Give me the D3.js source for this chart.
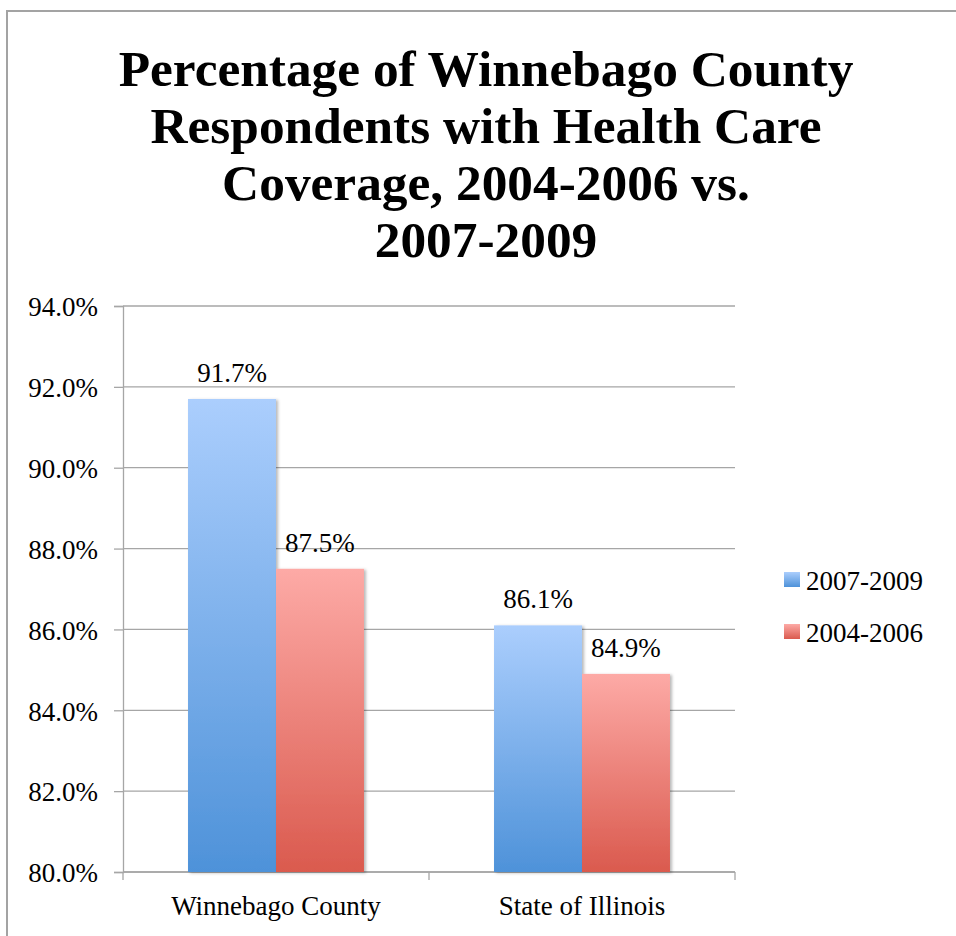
<!DOCTYPE html>
<html>
<head>
<meta charset="utf-8">
<script src="https://cdn.jsdelivr.net/npm/d3@7/dist/d3.min.js"></script>
<style>
  html, body { margin: 0; padding: 0; background: #fff; }
  svg { display: block; }
</style>
</head>
<body>
<script>
// Chart data
const categories = ["Winnebago County", "State of Illinois"];
const seriesNames = ["2007-2009", "2004-2006"];
const values2007 = [91.7, 86.1];
const values2004 = [87.5, 84.9];
const yTicks = [80, 82, 84, 86, 88, 90, 92, 94];
const titleLines = [
  "Percentage of Winnebago County",
  "Respondents with Health Care",
  "Coverage, 2004-2006 vs.",
  "2007-2009"
];

const W = 956, H = 936;
const svg = d3.select("body").append("svg").attr("width", W).attr("height", H);
const defs = svg.append("defs");

// Vertical gradients for the two series
const gradStops = {
  "2007-2009": ["#abcefd", "#4e92d9"],
  "2004-2006": ["#fdaaa6", "#da5a4e"]
};
seriesNames.forEach((s, i) => {
  const g = defs.append("linearGradient")
    .attr("id", "grad" + i).attr("x1", 0).attr("y1", 0).attr("x2", 0).attr("y2", 1);
  g.append("stop").attr("offset", "0%").attr("stop-color", gradStops[s][0]);
  g.append("stop").attr("offset", "100%").attr("stop-color", gradStops[s][1]);
});
const shadow = defs.append("filter").attr("id", "barShadow")
  .attr("x", "-10%").attr("y", "-5%").attr("width", "130%").attr("height", "115%");
shadow.append("feDropShadow").attr("dx", 2).attr("dy", 1).attr("stdDeviation", 1.6)
  .attr("flood-color", "#000").attr("flood-opacity", 0.28);

// Outer frame
svg.append("rect").attr("x", 7).attr("y", 11).attr("width", W + 20).attr("height", H + 20)
  .attr("fill", "none").attr("stroke", "#a3a3a3").attr("stroke-width", 2);

// Title
const title = svg.append("text")
  .attr("font-family", "'Liberation Serif', serif")
  .attr("font-weight", "bold")
  .attr("font-size", 48)
  .attr("fill", "#000")
  .attr("text-anchor", "middle");
titleLines.forEach((t, i) => {
  title.append("tspan").attr("x", 486).attr("y", 86 + i * 57).text(t);
});
// Fit the longest line to its width
const firstLen = title.select("tspan").node().getComputedTextLength();
title.attr("font-size", 48 * 735 / firstLen);

// Scales
const plotLeft = 123, plotRight = 735, plotTop = 306, plotBottom = 872;
const y = d3.scaleLinear().domain([80, 94]).range([plotBottom, plotTop]);
const x = d3.scaleBand().domain(categories).range([plotLeft, plotRight]).padding(0);
const xSub = d3.scaleBand().domain(seriesNames).range([0, x.bandwidth()])
  .paddingInner(0).paddingOuter(0.739);

const labelFont = "'Liberation Serif', serif";
const gridColor = "#a6a6a6";

// Gridlines
svg.append("g").selectAll("line").data(yTicks).join("line")
  .attr("x1", plotLeft).attr("x2", plotRight)
  .attr("y1", d => y(d)).attr("y2", d => y(d))
  .attr("stroke", gridColor).attr("stroke-width", 1.3);

// Y axis
const yAxis = svg.append("g").attr("transform", `translate(${plotLeft},0)`)
  .call(d3.axisLeft(y).tickValues(yTicks).tickSize(9).tickPadding(16)
    .tickFormat(d => d.toFixed(1) + "%"));
yAxis.select(".domain").attr("stroke", gridColor).attr("stroke-width", 1.3);
yAxis.selectAll(".tick line").attr("stroke", gridColor).attr("stroke-width", 1.3);
yAxis.selectAll(".tick text")
  .attr("font-family", labelFont).attr("font-size", 27).attr("fill", "#000")
  .attr("dy", "0.36em");

// X axis with category separators
const xAxisG = svg.append("g").attr("transform", `translate(0,${plotBottom})`);
xAxisG.append("line").attr("x1", plotLeft).attr("x2", plotRight)
  .attr("stroke", gridColor).attr("stroke-width", 1.3);
const seps = [plotLeft].concat(categories.map(c => x(c) + x.bandwidth()));
xAxisG.selectAll("line.sep").data(seps).join("line").attr("class", "sep")
  .attr("x1", d => d).attr("x2", d => d).attr("y1", 0).attr("y2", 8)
  .attr("stroke", gridColor).attr("stroke-width", 1.3);
xAxisG.selectAll("text").data(categories).join("text")
  .attr("x", d => x(d) + x.bandwidth() / 2).attr("y", 43)
  .attr("text-anchor", "middle")
  .attr("font-family", labelFont).attr("font-size", 27).attr("fill", "#000")
  .text(d => d);

// Bars
const rows = categories.map((c, i) => ({
  category: c,
  items: [
    { series: seriesNames[0], value: values2007[i], idx: 0 },
    { series: seriesNames[1], value: values2004[i], idx: 1 }
  ]
}));
const groups = svg.append("g").selectAll("g").data(rows).join("g")
  .attr("transform", d => `translate(${x(d.category)},0)`);
groups.selectAll("rect").data(d => d.items).join("rect")
  .attr("x", d => xSub(d.series))
  .attr("y", d => y(d.value))
  .attr("width", xSub.bandwidth())
  .attr("height", d => y(80) - y(d.value))
  .attr("fill", d => `url(#grad${d.idx})`)
  .attr("filter", "url(#barShadow)");
groups.selectAll("text").data(d => d.items).join("text")
  .attr("x", d => xSub(d.series) + xSub.bandwidth() / 2)
  .attr("y", d => y(d.value) - 17)
  .attr("text-anchor", "middle")
  .attr("font-family", labelFont).attr("font-size", 27).attr("fill", "#000")
  .text(d => d.value.toFixed(1) + "%");

// Legend
const legend = svg.append("g").attr("transform", "translate(784,572)");
const li = legend.selectAll("g").data(seriesNames).join("g")
  .attr("transform", (d, i) => `translate(0,${i * 52})`);
li.append("rect").attr("width", 16).attr("height", 15)
  .attr("fill", (d, i) => `url(#grad${i})`);
li.append("text").attr("x", 22).attr("y", 18)
  .attr("font-family", labelFont).attr("font-size", 27).attr("fill", "#000")
  .text(d => d);
</script>
</body>
</html>
